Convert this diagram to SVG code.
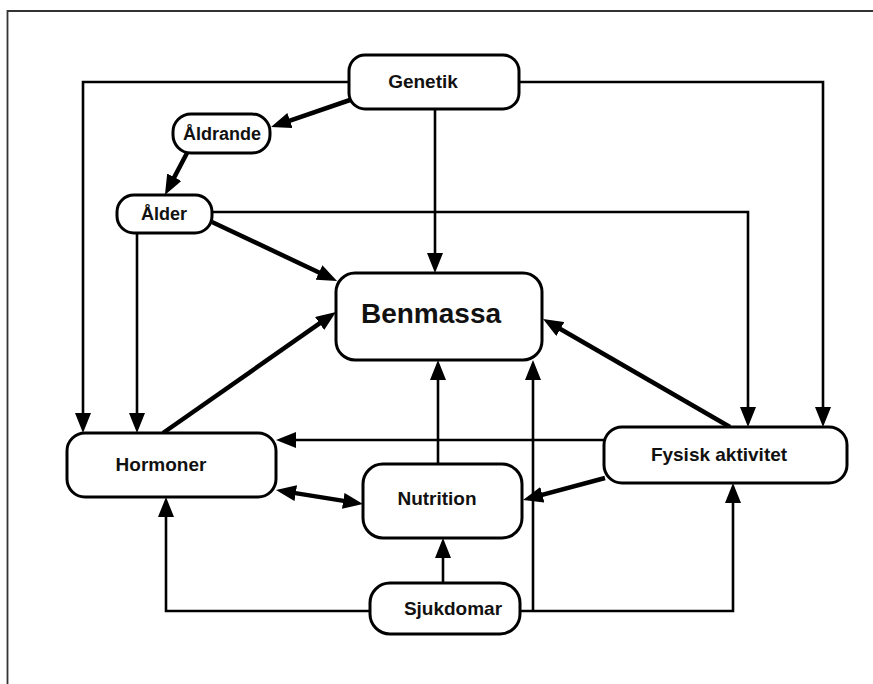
<svg xmlns="http://www.w3.org/2000/svg" width="873" height="684" viewBox="0 0 873 684">
<style>
.box{fill:#fff;stroke:#000;stroke-width:3}
.lbl{font-family:"Liberation Sans",Arial,sans-serif;font-weight:bold;font-size:19px;fill:#111;text-anchor:middle}
.sm{font-size:18px}
.big{font-size:28px}
.ln{fill:none;stroke:#000;stroke-width:2.6;marker-end:url(#ah)}
.th{fill:none;stroke:#000;stroke-width:4.5;marker-end:url(#ah)}
</style>
<defs>
<marker id="ah" markerUnits="userSpaceOnUse" markerWidth="20" markerHeight="16" refX="10" refY="8" orient="auto-start-reverse" viewBox="0 0 20 16">
<path d="M0,0 L20,8 L0,16 z" fill="#000"/>
</marker>
</defs>
<rect x="0" y="0" width="873" height="684" fill="#fff"/>
<path d="M7.5,684 V11 H873" fill="none" stroke="#333" stroke-width="1.8"/>
<g id="connectors">
<path class="ln" d="M349,82 H83 V423"/>
<path class="ln" d="M519,82 H823 V417"/>
<path class="th" d="M350,100 L280.5,123.8"/>
<path class="th" d="M187,153 L169.6,186.1"/>
<path class="ln" d="M435,110 V263"/>
<path class="ln" d="M212,212 H748 V417"/>
<path class="th" d="M212,222 L328,276.7"/>
<path class="ln" d="M137,233 V423"/>
<path class="th" d="M163,433 L327.8,317.7"/>
<path class="th" d="M730,427 L551.7,324"/>
<path class="ln" d="M604,440 H286"/>
<path class="th" d="M605,478 L532.7,497.4"/>
<path class="th" d="M285.9,491.6 L353.1,502.4" style="marker-start:url(#ah)"/>
<path class="ln" d="M438,464 V370"/>
<path class="ln" d="M533,611 V370"/>
<path class="ln" d="M520,611 H733 V493"/>
<path class="ln" d="M370,611 H166 V507"/>
<path class="ln" d="M443,583 V548"/>
</g>
<g id="genetik"><rect class="box" x="349" y="55" width="170" height="54" rx="16"/><text class="lbl" x="423" y="88">Genetik</text></g>
<g id="aldrande"><rect class="box" x="173" y="114" width="97" height="39" rx="18"/><text class="lbl sm" x="222" y="140">Åldrande</text></g>
<g id="alder"><rect class="box" x="117" y="195" width="95" height="38" rx="17"/><text class="lbl sm" x="164" y="220">Ålder</text></g>
<g id="benmassa"><rect class="box" x="336" y="273" width="206" height="87" rx="19"/><text class="lbl big" x="431" y="323">Benmassa</text></g>
<g id="hormoner"><rect class="box" x="67" y="433" width="209" height="64" rx="18"/><text class="lbl" x="161" y="471">Hormoner</text></g>
<g id="nutrition"><rect class="box" x="363" y="464" width="159" height="74" rx="20"/><text class="lbl" x="437" y="505">Nutrition</text></g>
<g id="fysisk"><rect class="box" x="604" y="427" width="243" height="56" rx="18"/><text class="lbl" x="719" y="461">Fysisk aktivitet</text></g>
<g id="sjukdomar"><rect class="box" x="370" y="583" width="150" height="51" rx="20"/><text class="lbl" x="453" y="615">Sjukdomar</text></g>
</svg>
